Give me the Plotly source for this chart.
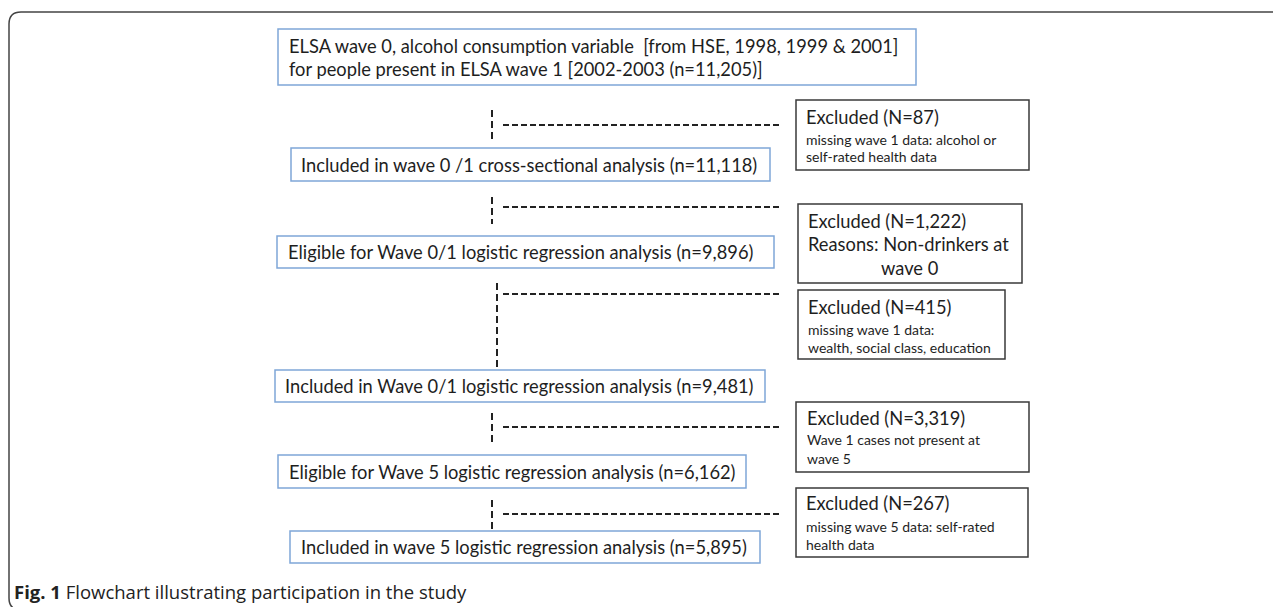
import plotly.graph_objects as go

# ---------------- data ----------------
source_lines = ["ELSA wave 0, alcohol consumption variable  [from HSE, 1998, 1999 & 2001]",
                "for people present in ELSA wave 1 [2002-2003 (n=11,205)]"]
stage_titles = ["Included in wave 0 /1 cross-sectional analysis",
                "Eligible for Wave 0/1 logistic regression analysis",
                "Included in Wave 0/1 logistic regression analysis",
                "Eligible for Wave 5 logistic regression analysis",
                "Included in wave 5 logistic regression analysis"]
stage_n = ["11,118", "9,896", "9,481", "6,162", "5,895"]
excluded_n = ["87", "1,222", "415", "3,319", "267"]
excluded_reasons = [["missing wave 1 data: alcohol or", "self-rated health data"],
                    ["Reasons: Non-drinkers at", "wave 0"],
                    ["missing wave 1 data:", "wealth, social class, education"],
                    ["Wave 1 cases not present at", "wave 5"],
                    ["missing wave 5 data: self-rated", "health data"]]
caption_bold = "Fig. 1"
caption_text = "Flowchart illustrating participation in the study"

# ---------------- layout (positions in page pixels) ----------------
W, H = 1281, 607
OFF = 8  # default page margin of the html body
src_box = (278, 29, 916, 85)
src_line_y = [46, 69]
src_text_x = 287
stage_boxes = [(291, 148, 770, 181), (277, 236, 774, 268), (275, 370, 765, 402),
               (278, 455, 746, 488), (290, 531, 760, 563)]
stage_text_x = [299, 286, 283, 287, 299]
exc_boxes = [(796, 100, 1029, 170), (798, 204, 1022, 283), (798, 290, 1005, 359),
             (796, 402, 1029, 472), (796, 488, 1028, 557)]
exc_text_x = [804, 806, 806, 805, 804]
exc_line_y = [[117, 139, 156], [221, 244, 268], [307, 329, 347],
              [418, 439, 458], [503, 526, 544]]
exc_reason_big = [False, True, False, False, False]
vdash = [(492, 110, 141), (492, 197, 224), (497, 283, 370), (492, 413, 442), (492, 500, 530)]
hdash_y = [125, 207, 294, 427, 514]
hdash_x = (503, 782)

BLUE = "#7fa6d8"
DARK = "#3a3a3a"
TXT = "#1e1e1e"
FONT = "Lato"
BIG = 18.3
SMALL = 14

fig = go.Figure()
fig.add_trace(go.Scatter(x=[OFF, W], y=[OFF, H], mode="markers",
                         marker=dict(opacity=0), hoverinfo="skip", showlegend=False))

shapes = []
shapes.append(dict(type="path", xref="x", yref="y",
                   path="M 1300,12 L 21,12 Q 9,12 9,24 L 9,598 Q 9,610 21,610 L 1300,610",
                   line=dict(color="#444444", width=1.5)))
x0, y0, x1, y1 = src_box
shapes.append(dict(type="rect", x0=x0, y0=y0, x1=x1, y1=y1, line=dict(color=BLUE, width=1.5)))
for (x0, y0, x1, y1) in stage_boxes:
    shapes.append(dict(type="rect", x0=x0, y0=y0, x1=x1, y1=y1, line=dict(color=BLUE, width=1.5)))
for (x0, y0, x1, y1) in exc_boxes:
    shapes.append(dict(type="rect", x0=x0, y0=y0, x1=x1, y1=y1, line=dict(color=DARK, width=1.5)))
for (x, ya, yb) in vdash:
    shapes.append(dict(type="line", x0=x, x1=x, y0=ya, y1=yb,
                       line=dict(color="#222222", width=2, dash="7px,4px")))
for y in hdash_y:
    shapes.append(dict(type="line", x0=hdash_x[0], x1=hdash_x[1], y0=y, y1=y,
                       line=dict(color="#222222", width=1.8, dash="6px,3px")))

ann = []
for line, y in zip(source_lines, src_line_y):
    ann.append(dict(x=src_text_x, y=y, text=line, xanchor="left", yanchor="middle",
                    showarrow=False, font=dict(family=FONT, size=BIG, color=TXT)))
for t, n, (x0, y0, x1, y1), tx in zip(stage_titles, stage_n, stage_boxes, stage_text_x):
    ann.append(dict(x=tx, y=(y0 + y1) / 2, text=f"{t} (n={n})", xanchor="left",
                    yanchor="middle", showarrow=False,
                    font=dict(family=FONT, size=BIG, color=TXT)))
for i, (n, reasons) in enumerate(zip(excluded_n, excluded_reasons)):
    ys = exc_line_y[i]
    tx = exc_text_x[i]
    ann.append(dict(x=tx, y=ys[0], text=f"Excluded (N={n})", xanchor="left", yanchor="middle",
                    showarrow=False, font=dict(family=FONT, size=BIG, color=TXT)))
    if exc_reason_big[i]:
        ann.append(dict(x=tx, y=ys[1], text=reasons[0], xanchor="left", yanchor="middle",
                        showarrow=False, font=dict(family=FONT, size=BIG, color=TXT)))
        bx0, _, bx1, _ = exc_boxes[i]
        ann.append(dict(x=(bx0 + bx1) / 2, y=ys[2], text=reasons[1], xanchor="center",
                        yanchor="middle", showarrow=False,
                        font=dict(family=FONT, size=BIG, color=TXT)))
    else:
        for r, y in zip(reasons, ys[1:]):
            ann.append(dict(x=tx, y=y, text=r, xanchor="left", yanchor="middle",
                            showarrow=False, font=dict(family=FONT, size=SMALL, color=TXT)))
ann.append(dict(x=12, y=591, text=f"<b>{caption_bold}</b> {caption_text}", xanchor="left",
                yanchor="middle", showarrow=False,
                font=dict(family="Open Sans", size=18.5, color="#222222")))

fig.update_layout(width=W - OFF, height=H - OFF, margin=dict(l=0, r=0, t=0, b=0),
                  paper_bgcolor="white", plot_bgcolor="white",
                  shapes=shapes, annotations=ann, showlegend=False,
                  xaxis=dict(range=[OFF, W], visible=False, fixedrange=True),
                  yaxis=dict(range=[H, OFF], visible=False, fixedrange=True))
fig.write_html("out.html", config={"displayModeBar": False})
